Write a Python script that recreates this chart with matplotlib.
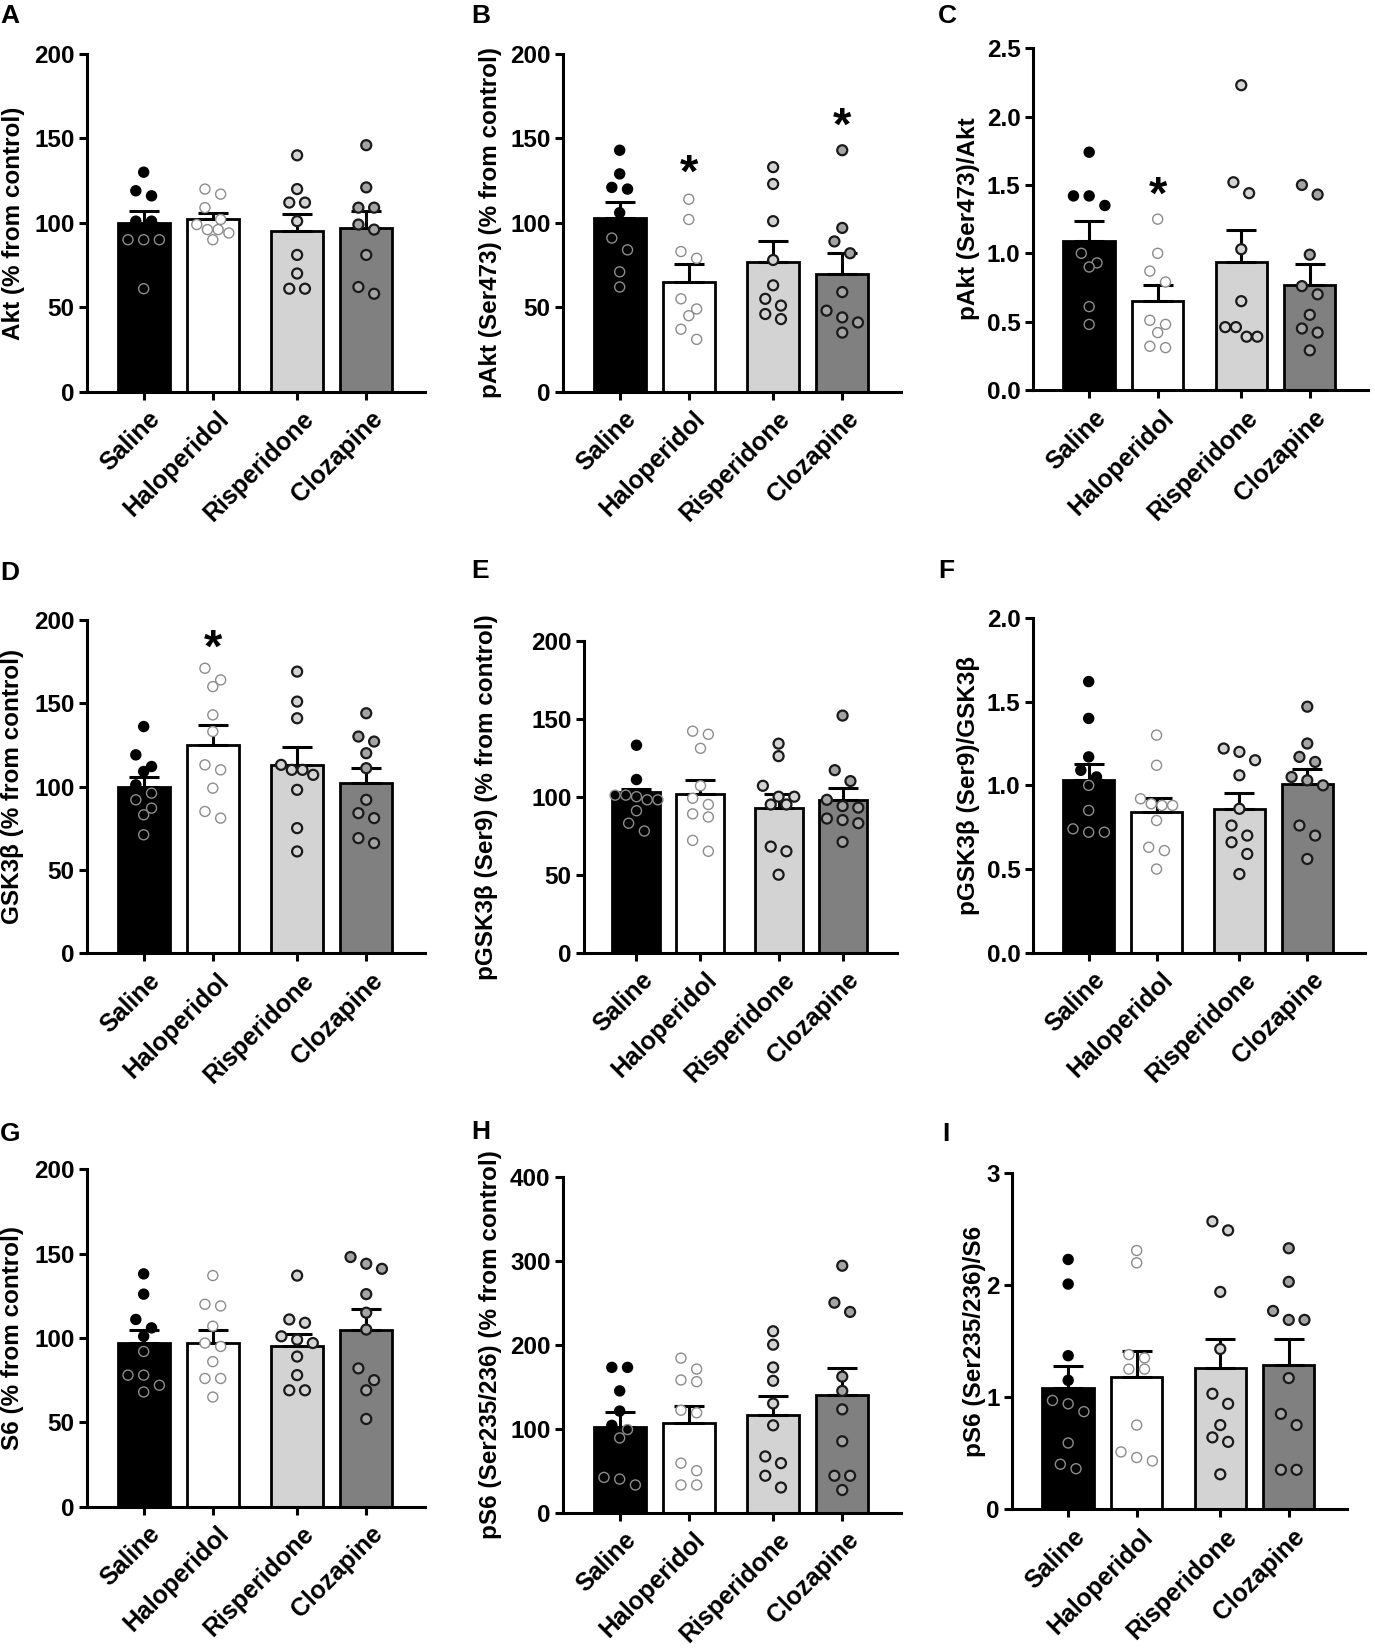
import matplotlib
matplotlib.use("Agg")
import matplotlib.pyplot as plt
import matplotlib.transforms as mtransforms
import numpy as np

# groups and bar positions (gap between 2nd and 3rd bar like GraphPad)
groups = ["Saline", "Haloperidol", "Risperidone", "Clozapine"]
xpos = [0, 1, 2.22, 3.22]

# A - Akt
akt_mean = [100, 102, 95, 97]
akt_sem = [7, 4, 10, 10]
akt_pts = [[130, 119, 116, 101, 101, 90, 90, 90, 61],
           [120, 117, 109, 102, 99, 96, 96, 94, 90],
           [140, 120, 112, 112, 101, 81, 70, 61, 61],
           [146, 121, 109, 109, 99, 96, 81, 62, 58]]

# B - pAkt (Ser473)
pakt_mean = [103, 65, 77, 70]
pakt_sem = [9.5, 10.5, 12, 12.4]
pakt_pts = [[143, 129, 121, 120, 106, 91, 84, 71, 62],
            [114, 102, 83, 79, 55, 49, 45, 37, 31],
            [133, 123, 101, 78, 63, 55, 51, 46, 43],
            [143, 97, 89, 82, 59, 48, 44, 41, 35]]
pakt_star = [None, 137, None, 165]

# C - pAkt/Akt
akt_ratio_mean = [1.09, 0.65, 0.94, 0.77]
akt_ratio_sem = [0.144, 0.12, 0.227, 0.154]
akt_ratio_pts = [[1.74, 1.42, 1.42, 1.35, 1.0, 0.93, 0.90, 0.61, 0.48],
                 [1.25, 1.0, 0.87, 0.79, 0.51, 0.48, 0.42, 0.32, 0.31],
                 [2.23, 1.52, 1.44, 1.03, 0.65, 0.46, 0.46, 0.39, 0.39],
                 [1.50, 1.43, 0.99, 0.76, 0.70, 0.55, 0.45, 0.42, 0.29]]
akt_ratio_star = [None, 1.52, None, None]

# D - GSK3b
gsk_mean = [100, 125, 113, 102]
gsk_sem = [6, 12, 11, 9]
gsk_pts = [[136, 119, 112, 109, 101, 96, 92, 87, 83, 71],
           [171, 164, 160, 143, 133, 113, 110, 99, 85, 81],
           [169, 151, 141, 113, 110, 110, 107, 98, 75, 61],
           [144, 130, 127, 120, 111, 92, 84, 81, 69, 66]]
gsk_star = [None, 191, None, None]

# E - pGSK3b (Ser9)
pgsk_mean = [103, 102, 93, 98]
pgsk_sem = [2, 9, 9, 7.5]
pgsk_pts = [[133, 111, 101, 101, 100, 98, 98, 91, 83, 78],
            [142, 140, 131, 107, 99, 95, 89, 87, 72, 65],
            [134, 126, 107, 100, 100, 95, 95, 68, 65, 50],
            [152, 117, 110, 98, 94, 93, 86, 85, 83, 71]]

# F - pGSK3b/GSK3b
gsk_ratio_mean = [1.03, 0.84, 0.86, 1.01]
gsk_ratio_sem = [0.10, 0.086, 0.095, 0.09]
gsk_ratio_pts = [[1.62, 1.40, 1.17, 1.09, 1.05, 1.0, 0.85, 0.74, 0.72, 0.72],
                 [1.30, 1.12, 0.92, 0.89, 0.88, 0.88, 0.79, 0.63, 0.61, 0.50],
                 [1.22, 1.20, 1.15, 1.06, 0.86, 0.76, 0.70, 0.66, 0.59, 0.47],
                 [1.47, 1.25, 1.17, 1.14, 1.05, 1.03, 1.0, 0.76, 0.70, 0.56]]

# G - S6
s6_mean = [97, 97, 95, 105]
s6_sem = [8, 8, 7.5, 12]
s6_pts = [[138, 126, 111, 106, 101, 92, 78, 78, 72, 68],
          [137, 120, 119, 107, 97, 95, 86, 76, 76, 65],
          [137, 111, 109, 101, 99, 97, 89, 78, 69, 69],
          [148, 144, 141, 126, 115, 105, 82, 75, 69, 52]]

# H - pS6 (Ser235/236)
ps6_mean = [102, 107, 116, 140]
ps6_sem = [17.5, 20, 22.6, 31.8]
ps6_pts = [[173, 173, 145, 121, 104, 99, 89, 42, 40, 33],
           [184, 171, 158, 156, 122, 119, 59, 50, 33, 33],
           [216, 200, 173, 157, 130, 104, 67, 59, 44, 30],
           [294, 250, 239, 162, 145, 123, 85, 44, 44, 27]]

# I - pS6/S6
s6_ratio_mean = [1.08, 1.18, 1.26, 1.29]
s6_ratio_sem = [0.20, 0.23, 0.26, 0.23]
s6_ratio_pts = [[2.23, 2.01, 1.37, 1.15, 0.97, 0.94, 0.87, 0.59, 0.40, 0.36],
                [2.31, 2.20, 1.38, 1.35, 1.25, 1.25, 0.75, 0.51, 0.46, 0.43],
                [2.57, 2.49, 1.94, 1.43, 1.03, 0.94, 0.75, 0.64, 0.60, 0.31],
                [2.33, 2.03, 1.77, 1.69, 1.69, 1.17, 0.85, 0.75, 0.35, 0.35]]

bar_colors = ["black", "white", "#d3d3d3", "#808080"]
dot_faces = ["black", "white", "#d4d4d4", "#a4a4a4"]

plt.rcParams["font.family"] = ["Liberation Sans", "DejaVu Sans"]
plt.rcParams["font.weight"] = "bold"

W, H = 1375, 1648
fig = plt.figure(figsize=(W / 100, H / 100), dpi=100)

STAR_FS = 34


def swarm(ax, vals, xc, thresh=12.0):
    # GraphPad-like scatter: rows of close values spread around the center
    p0 = ax.transData.transform((0, 0))
    p1 = ax.transData.transform((1, 1))
    sx, sy = p1[0] - p0[0], p1[1] - p0[1]
    vals = np.asarray(vals, float)
    order = np.argsort(-vals, kind="stable")
    rows, cur = [], []
    for i in order:
        if cur and (vals[cur[0]] - vals[i]) * sy > thresh:
            rows.append(cur)
            cur = []
        cur.append(i)
    rows.append(cur)
    xs = np.zeros(len(vals))
    for row in rows:
        k = len(row)
        step = 15.7 if k <= 3 else 10.7
        for j, i in enumerate(row):
            xs[i] = xc + (j - (k - 1) / 2) * step / sx
    return xs


def panel(letter, lxy, rect, mean, sem, pts, ylim, yticks, ylabel, lab_off,
          fmt="{:g}", stars=None):
    left, right, top, bottom = rect
    ax = fig.add_axes([left / W, 1 - bottom / H, (right - left) / W, (bottom - top) / H])
    ax.set_xlim(-0.82, 4.07)
    ax.set_ylim(*ylim)
    for s in ["top", "right"]:
        ax.spines[s].set_visible(False)
    for s in ["left", "bottom"]:
        ax.spines[s].set_linewidth(2.2)
    ax.bar(xpos, mean, width=0.75, color=bar_colors, edgecolor="black",
           linewidth=2.0, zorder=2)
    ax.errorbar(xpos, mean, yerr=[[0] * 4, sem], fmt="none", ecolor="black",
                elinewidth=2.2, capsize=11, capthick=2.2, zorder=3)
    star_off = mtransforms.ScaledTranslation(0, -0.56 * STAR_FS / 72, fig.dpi_scale_trans)
    for g in range(4):
        vals = np.asarray(pts[g], float)
        xs = swarm(ax, vals, xpos[g])
        if g == 0:
            edges = ["black" if v > mean[g] else "#8c8c8c" for v in vals]
            lw = 1.0
        elif g == 1:
            edges = ["#8c8c8c"] * len(vals)
            lw = 1.0
        else:
            edges = ["#1a1a1a"] * len(vals)
            lw = 1.6
        ax.scatter(xs, vals, s=52, c=dot_faces[g], edgecolors=edges,
                   linewidths=lw, zorder=4, clip_on=False)
        if stars and stars[g] is not None:
            ax.text(xpos[g], stars[g], "*", ha="center", va="baseline",
                    fontsize=STAR_FS, fontweight="bold", zorder=5,
                    transform=ax.transData + star_off)
    ax.set_yticks(yticks)
    ax.set_yticklabels([fmt.format(t) for t in yticks])
    ax.set_xticks(xpos)
    ax.set_xticklabels(groups)
    ax.tick_params(axis="both", direction="out", length=6, width=2.2,
                   labelsize=17.5, pad=3)
    ax.tick_params(axis="x", labelsize=18, pad=5)
    off = mtransforms.ScaledTranslation(3 / 72, 0, fig.dpi_scale_trans)
    for lab in ax.get_xticklabels():
        lab.set_rotation(45)
        lab.set_ha("right")
        lab.set_va("top")
        lab.set_rotation_mode("anchor")
        lab.set_fontweight("bold")
        lab.set_transform(lab.get_transform() + off)
    for lab in ax.get_yticklabels():
        lab.set_fontweight("bold")
    ax.set_ylabel(ylabel, fontsize=17.5, fontweight="bold")
    ax.yaxis.label.set_va("center")
    ax.yaxis.set_label_coords(-lab_off / (right - left), 0.5)
    fig.text(lxy[0] / W, 1 - lxy[1] / H, letter, fontsize=19,
             fontweight="bold", ha="left", va="top")
    return ax


panel("A", (0, 4), (87, 425, 54, 391.7), akt_mean, akt_sem, akt_pts,
      (0, 200), [0, 50, 100, 150, 200], "Akt (% from control)", 73)
panel("B", (471, 4), (563, 901, 54, 391.7), pakt_mean, pakt_sem, pakt_pts,
      (0, 200), [0, 50, 100, 150, 200], "pAkt (Ser473) (% from control)", 73,
      stars=pakt_star)
panel("C", (938, 4), (1033, 1368, 48.3, 390), akt_ratio_mean, akt_ratio_sem,
      akt_ratio_pts, (0, 2.5), [0, 0.5, 1.0, 1.5, 2.0, 2.5], "pAkt (Ser473)/Akt",
      65, fmt="{:.1f}", stars=akt_ratio_star)
panel("D", (0, 561), (87, 425, 620, 953), gsk_mean, gsk_sem, gsk_pts,
      (0, 200), [0, 50, 100, 150, 200], "GSK3β (% from control)", 74,
      stars=gsk_star)
panel("E", (471, 559), (584, 897, 640.7, 952.7), pgsk_mean, pgsk_sem, pgsk_pts,
      (0, 200), [0, 50, 100, 150, 200], "pGSK3β (Ser9) (% from control)", 97)
panel("F", (938, 559), (1033, 1365, 618, 952.7), gsk_ratio_mean, gsk_ratio_sem,
      gsk_ratio_pts, (0, 2.0), [0, 0.5, 1.0, 1.5, 2.0], "pGSK3β (Ser9)/GSK3β",
      65, fmt="{:.1f}")
panel("G", (0, 1122), (87, 425, 1169.3, 1506.7), s6_mean, s6_sem, s6_pts,
      (0, 200), [0, 50, 100, 150, 200], "S6 (% from control)", 74)
panel("H", (471, 1120), (563, 901, 1176.7, 1512.7), ps6_mean, ps6_sem, ps6_pts,
      (0, 400), [0, 100, 200, 300, 400], "pS6 (Ser235/236) (% from control)", 73)
panel("I", (942, 1122), (1012, 1347, 1173.3, 1509), s6_ratio_mean, s6_ratio_sem,
      s6_ratio_pts, (0, 3), [0, 1, 2, 3], "pS6 (Ser235/236)/S6", 38)

fig.savefig("out.png", dpi=100, facecolor="white")
